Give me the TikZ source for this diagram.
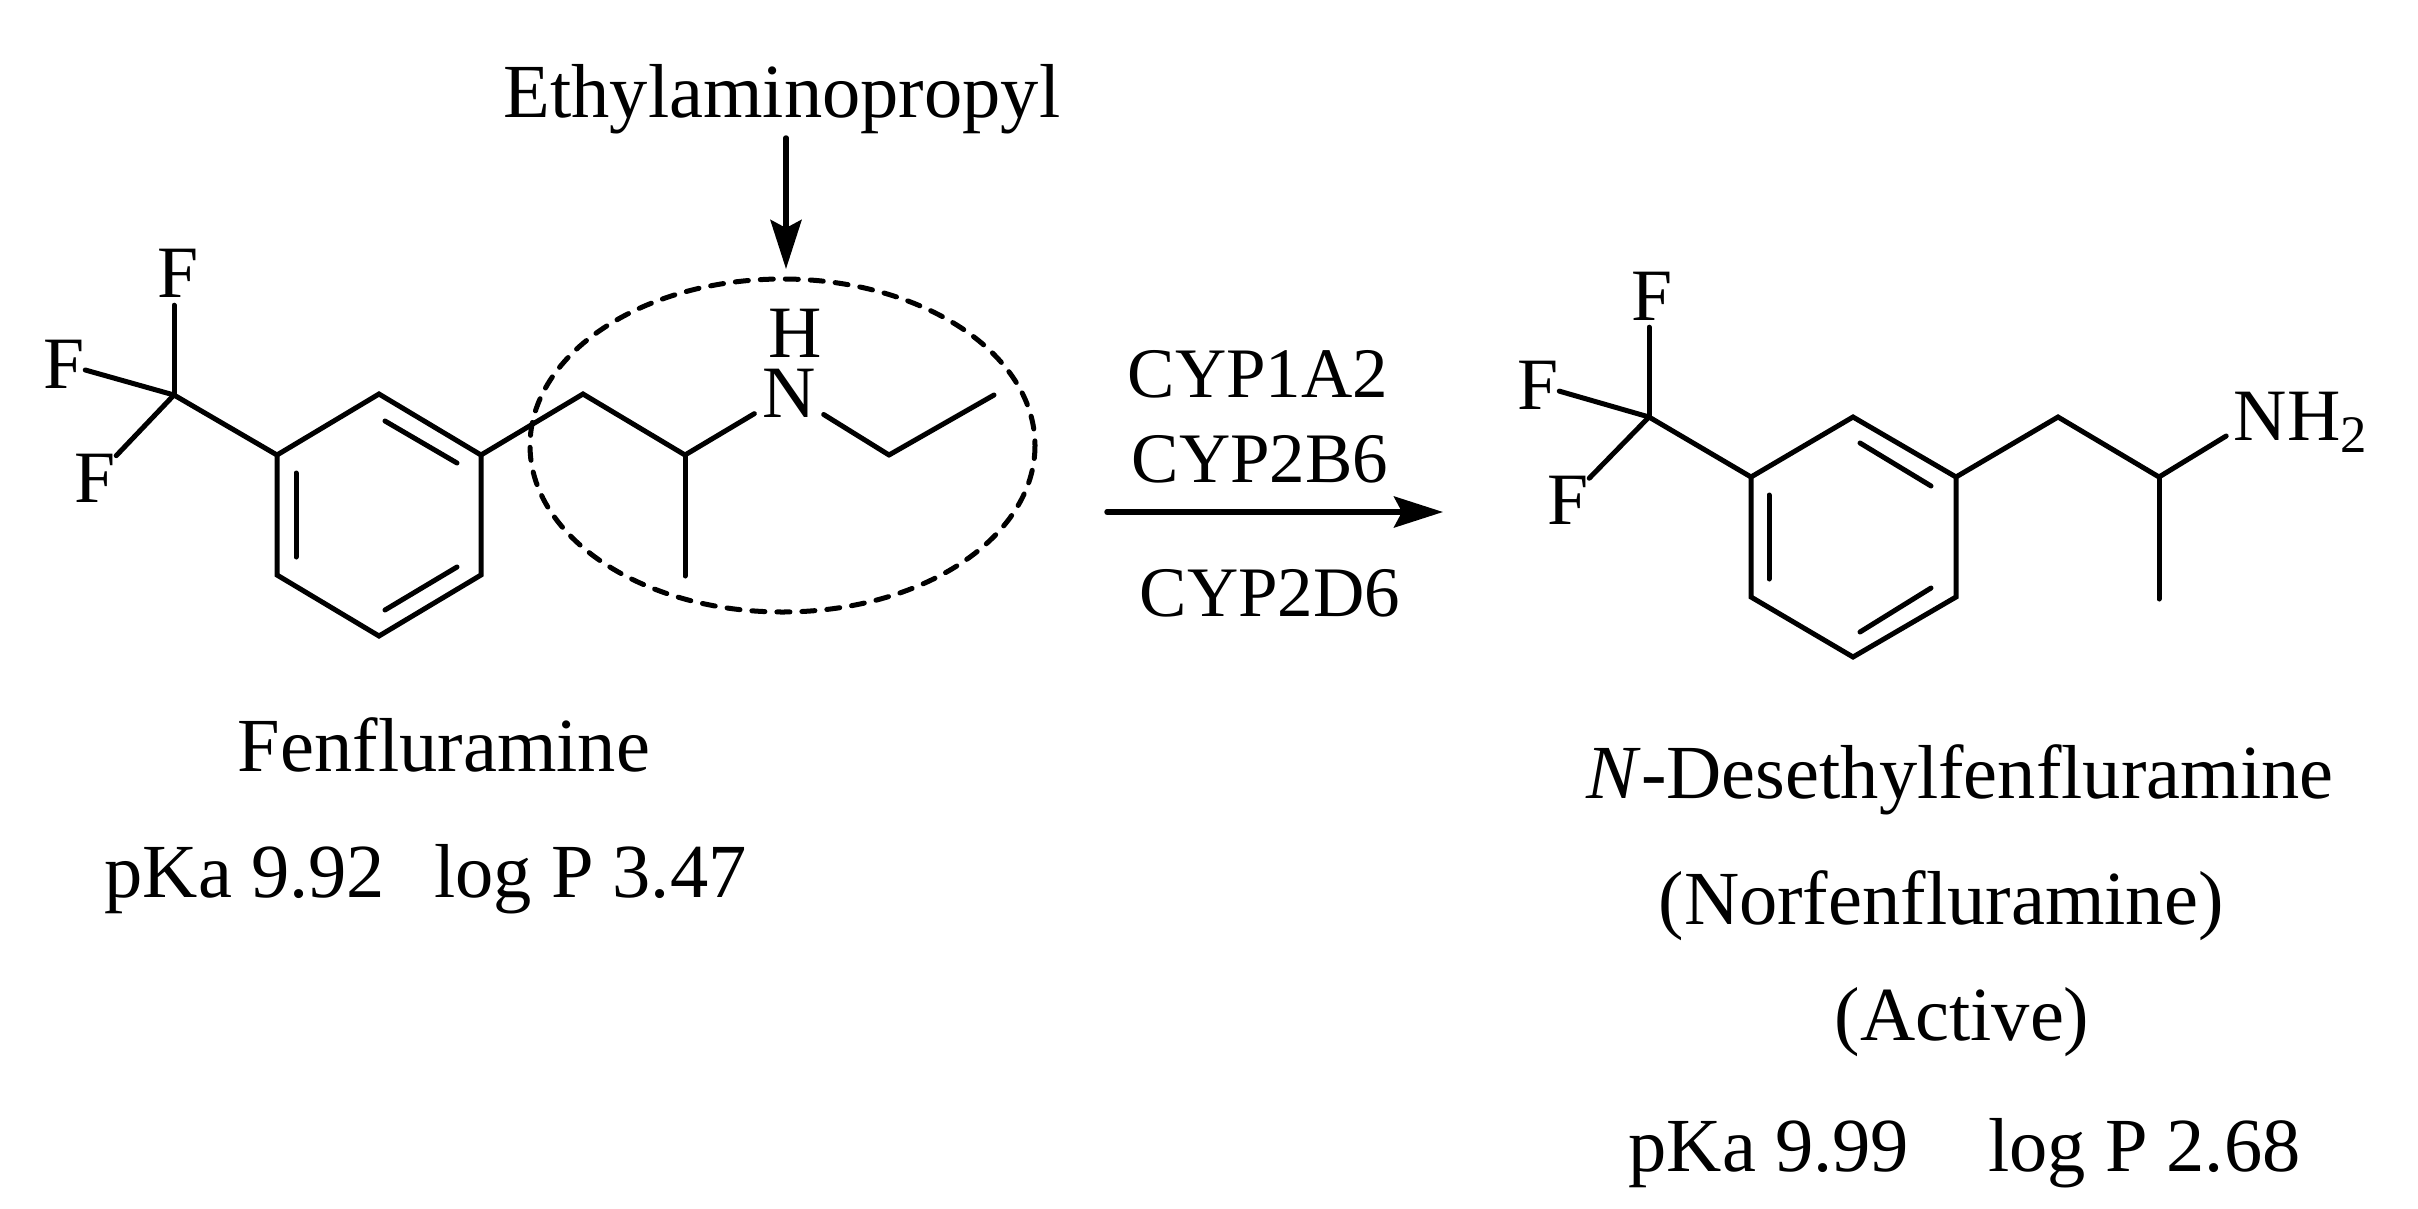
\documentclass[tikz,border=0pt]{standalone}
\usepackage{fontspec}
\setmainfont[Ligatures=NoCommon]{Liberation Serif}
\usetikzlibrary{arrows.meta}
\tikzset{
  bond/.style={line width=0.05cm, line cap=round},
  atom/.style={font=\fontsize{21}{21}\selectfont, inner sep=0pt},
  caption/.style={font=\fontsize{21.75}{21.75}\selectfont, inner sep=0pt, anchor=base},
  enzyme/.style={font=\fontsize{20.2}{20.2}\selectfont, inner sep=0pt, anchor=base},
  reaction/.style={line width=0.055cm, line cap=round, -{Stealth[length=0.49cm, width=0.31cm, inset=0.08cm]}}
}
\begin{document}
\begin{tikzpicture}[x=0.01cm, y=-0.01cm]
    \useasboundingbox (0,0) rectangle (2418,1209);

    % fenfluramine
    \coordinate (a1) at (277,455);
    \coordinate (a2) at (379,394);
    \coordinate (a3) at (481,455);
    \coordinate (a4) at (481,575);
    \coordinate (a5) at (379,636);
    \coordinate (a6) at (277,575);
    \coordinate (acf) at (174,395);
    \coordinate (ach) at (583,394);
    \coordinate (acm) at (685,455);
    \coordinate (ame) at (685,576);
    \coordinate (aet) at (889,455);
    \coordinate (aen) at (994,395);
    \coordinate (ad1) at (385,421);
    \coordinate (ad2) at (457,463);
    \coordinate (ad3) at (296,473);
    \coordinate (ad4) at (296,557);
    \coordinate (ad5) at (457,567);
    \coordinate (ad6) at (385,610);

    \node[atom, outer ysep=0.08cm] (afa) at (178,273) {F};
    \node[atom] (afb) at (64,364) {F};
    \node[atom] (afc) at (95,478) {F};
    \node[atom, outer xsep=0.08cm] (an) at (789,393) {N};
    \node[atom] (ah) at (795,333) {H};

    \draw[bond] (a1) -- (a2) -- (a3) -- (a4) -- (a5) -- (a6) -- (a1);
    \draw[bond] (ad1) -- (ad2);
    \draw[bond] (ad3) -- (ad4);
    \draw[bond] (ad5) -- (ad6);
    \draw[bond] (a1) -- (acf);
    \draw[bond] (acf) -- (acf |- afa.south);
    \draw[bond] (acf) -- (afb);
    \draw[bond] (acf) -- (afc);
    \draw[bond] (a3) -- (ach) -- (acm);
    \draw[bond] (acm) -- (ame);
    \draw[bond] (acm) -- (an);
    \draw[bond] (an) -- (aet);
    \draw[bond] (aet) -- (aen);

    \draw[line width=0.05cm, line cap=round, dash pattern=on 0.13cm off 0.12cm] (782.5,445.5) ellipse [x radius=252.5, y radius=166.5];

    \node[caption] (ethyl) at (782,117) {Ethylaminopropyl};
    \coordinate (da) at (786,138);
    \coordinate (db) at (786,269);
    \draw[reaction] (da) -- (db);

    % reaction arrow
    \node[enzyme] (cypa) at (1258,397) {CYP1A2};
    \node[enzyme] (cypb) at (1260,482) {CYP2B6};
    \node[enzyme] (cypc) at (1270,616) {CYP2D6};
    \coordinate (ra) at (1107,512);
    \coordinate (rb) at (1443,512);
    \draw[reaction] (ra) -- (rb);

    % norfenfluramine
    \coordinate (b1) at (1751,477);
    \coordinate (b2) at (1853,417);
    \coordinate (b3) at (1956,477);
    \coordinate (b4) at (1956,597);
    \coordinate (b5) at (1853,657);
    \coordinate (b6) at (1751,597);
    \coordinate (bcf) at (1649,417);
    \coordinate (bch) at (2058,417);
    \coordinate (bcm) at (2159,477);
    \coordinate (bme) at (2159,599);
    \coordinate (bd1) at (1860,443);
    \coordinate (bd2) at (1931,486);
    \coordinate (bd3) at (1769,495);
    \coordinate (bd4) at (1769,579);
    \coordinate (bd5) at (1931,588);
    \coordinate (bd6) at (1860,632);

    \node[atom, outer ysep=0.07cm] (bfa) at (1652,296) {F};
    \node[atom] (bfb) at (1538,385) {F};
    \node[atom] (bfc) at (1568,500) {F};
    \node[atom, anchor=base west] (bnh) at (2233,440) {NH\raisebox{-0.12cm}{\fontsize{15}{15}\selectfont 2}};

    \draw[bond] (b1) -- (b2) -- (b3) -- (b4) -- (b5) -- (b6) -- (b1);
    \draw[bond] (bd1) -- (bd2);
    \draw[bond] (bd3) -- (bd4);
    \draw[bond] (bd5) -- (bd6);
    \draw[bond] (b1) -- (bcf);
    \draw[bond] (bcf) -- (bcf |- bfa.south);
    \draw[bond] (bcf) -- (bfb);
    \draw[bond] (bcf) -- (bfc);
    \draw[bond] (b3) -- (bch) -- (bcm);
    \draw[bond] (bcm) -- (bme);
    \draw[bond, shorten >=0.08cm] (bcm) -- ([yshift=-0.1cm]bnh.west);

    % captions
    \node[caption] (fen) at (444,771) {Fenfluramine};
    \node[caption, anchor=base west] (fenp) at (104,897) {pKa 9.92\hspace{0.3cm} log P 3.47};
    \node[caption] (nor) at (1960,798) {\textit{N}-Desethylfenfluramine};
    \node[caption] (norb) at (1941,924) {(Norfenfluramine)};
    \node[caption] (norc) at (1962,1040) {(Active)};
    \node[caption, anchor=base west] (norp) at (1628,1171) {pKa 9.99\hspace{0.6cm} log P 2.68};
\end{tikzpicture}
\end{document}
